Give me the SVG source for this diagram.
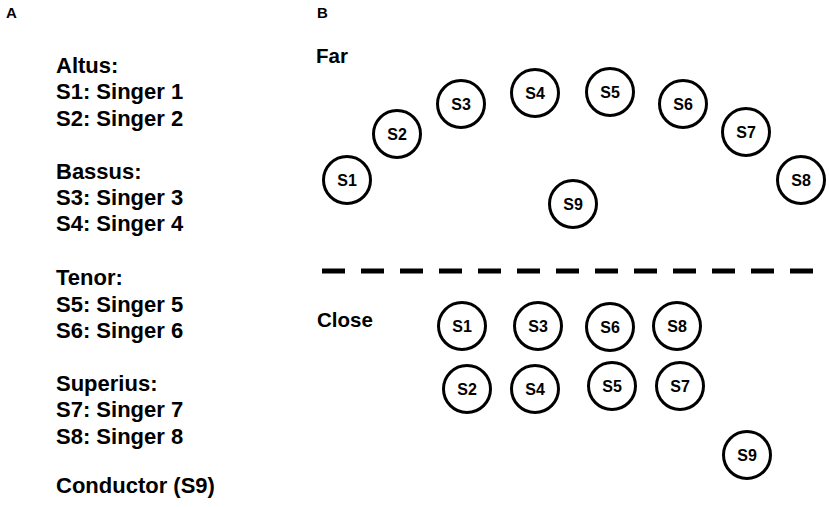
<svg xmlns="http://www.w3.org/2000/svg" width="829" height="507" viewBox="0 0 829 507">
<style>
text{font-family:"Liberation Sans",Arial,sans-serif;font-weight:bold;fill:#000}
.panel{font-size:15px}
.list{font-size:22px}
.sec{font-size:20.5px}
.node circle{fill:#fff;stroke:#000;stroke-width:3}
.node text{font-size:16px;text-anchor:middle}
.sep{stroke:#000;stroke-width:5;stroke-dasharray:23 16;fill:none}
</style>
<rect width="829" height="507" fill="#fff"/>
<text class="panel" x="6" y="18">A</text>
<text class="panel" x="317" y="18">B</text>
<g id="legend" class="list">
<text x="56" y="73">Altus:</text>
<text x="56" y="99.3">S1: Singer 1</text>
<text x="56" y="125.6">S2: Singer 2</text>
<text x="56" y="178.5">Bassus:</text>
<text x="56" y="204.8">S3: Singer 3</text>
<text x="56" y="231">S4: Singer 4</text>
<text x="56" y="285">Tenor:</text>
<text x="56" y="311.5">S5: Singer 5</text>
<text x="56" y="338">S6: Singer 6</text>
<text x="56" y="391">Superius:</text>
<text x="56" y="417">S7: Singer 7</text>
<text x="56" y="443.5">S8: Singer 8</text>
<text x="56" y="493">Conductor (S9)</text>
</g>
<text class="sec" x="316" y="63">Far</text>
<text class="sec" x="317" y="327">Close</text>
<g id="connectors">
<line class="sep" x1="322" y1="271" x2="813" y2="271"/>
</g>
<g id="far-S1" class="node"><circle cx="347" cy="180" r="23.5"/><text x="347" y="186">S1</text></g>
<g id="far-S2" class="node"><circle cx="397" cy="134" r="23.5"/><text x="397" y="140">S2</text></g>
<g id="far-S3" class="node"><circle cx="461" cy="104" r="23.5"/><text x="461" y="110">S3</text></g>
<g id="far-S4" class="node"><circle cx="535" cy="93" r="23.5"/><text x="535" y="99">S4</text></g>
<g id="far-S5" class="node"><circle cx="610" cy="92" r="23.5"/><text x="610" y="98">S5</text></g>
<g id="far-S6" class="node"><circle cx="683" cy="104" r="23.5"/><text x="683" y="110">S6</text></g>
<g id="far-S7" class="node"><circle cx="746" cy="132" r="23.5"/><text x="746" y="138">S7</text></g>
<g id="far-S8" class="node"><circle cx="801" cy="180" r="23.5"/><text x="801" y="186">S8</text></g>
<g id="far-S9" class="node"><circle cx="573" cy="204" r="23.5"/><text x="573" y="210">S9</text></g>
<g id="close-S1" class="node"><circle cx="462" cy="326" r="23.5"/><text x="462" y="332">S1</text></g>
<g id="close-S3" class="node"><circle cx="538" cy="326" r="23.5"/><text x="538" y="332">S3</text></g>
<g id="close-S6" class="node"><circle cx="610" cy="327" r="23.5"/><text x="610" y="333">S6</text></g>
<g id="close-S8" class="node"><circle cx="677" cy="326" r="23.5"/><text x="677" y="332">S8</text></g>
<g id="close-S2" class="node"><circle cx="467" cy="389" r="23.5"/><text x="467" y="395">S2</text></g>
<g id="close-S4" class="node"><circle cx="535" cy="389" r="23.5"/><text x="535" y="395">S4</text></g>
<g id="close-S5" class="node"><circle cx="612" cy="386" r="23.5"/><text x="612" y="392">S5</text></g>
<g id="close-S7" class="node"><circle cx="680" cy="386" r="23.5"/><text x="680" y="392">S7</text></g>
<g id="close-S9" class="node"><circle cx="747" cy="455" r="23.5"/><text x="747" y="461">S9</text></g>
</svg>
